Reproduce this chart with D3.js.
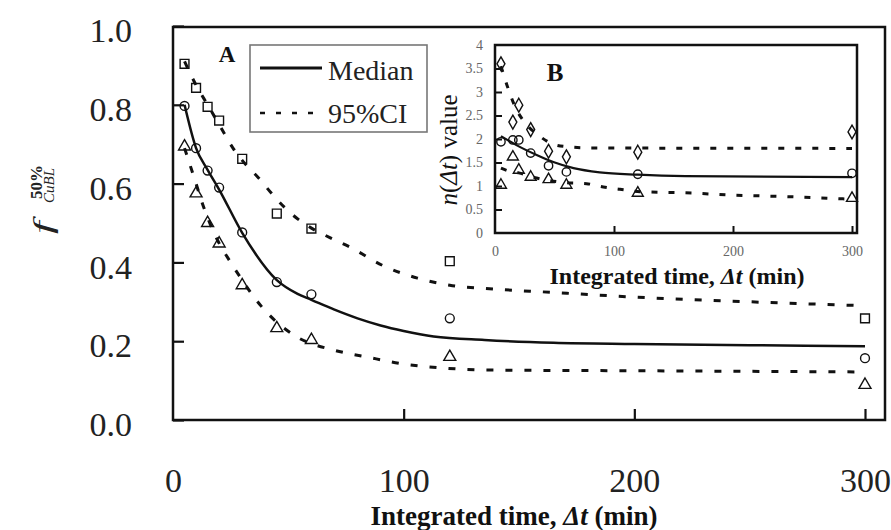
<!DOCTYPE html>
<html>
<head>
<meta charset="utf-8">
<script src="https://cdn.jsdelivr.net/npm/d3@7"></script>
<style>
  html, body { margin: 0; padding: 0; background: #fff; }
  svg { display: block; font-family: "Liberation Serif", "Times New Roman", serif; }
</style>
</head>
<body>
<svg id="chart" width="891" height="530"></svg>
<script>
// ---- Panel A: f(50%) CuBL vs integrated time ----
const timesA = [5, 10, 15, 20, 30, 45, 60, 120, 300];
const upperPtsA = [0.904, 0.843, 0.795, 0.76, 0.663, 0.524, 0.486, 0.403, 0.258];
const medianPtsA = [0.797, 0.69, 0.633, 0.59, 0.476, 0.35, 0.319, 0.258, 0.157];
const lowerPtsA = [0.694, 0.575, 0.50, 0.448, 0.342, 0.233, 0.203, 0.16, 0.089];

const medianLineA = [[5, 0.80], [10, 0.69], [15, 0.635], [20, 0.585], [30, 0.475], [45, 0.355], [54, 0.32],
  [60, 0.305], [70, 0.28], [80, 0.258], [90, 0.24], [100, 0.226], [113, 0.212], [135, 0.203],
  [165, 0.196], [200, 0.193], [250, 0.19], [300, 0.187]];
const upperLineA = [[5, 0.91], [10, 0.85], [15, 0.80], [20, 0.75], [26, 0.69], [31, 0.652], [37, 0.615],
  [45, 0.56], [52, 0.52], [60, 0.487], [68, 0.463], [77, 0.438], [91, 0.392], [106, 0.36], [120, 0.342],
  [135, 0.334], [164, 0.324], [200, 0.312], [250, 0.30], [300, 0.29]];
const lowerLineA = [[5, 0.69], [10, 0.60], [13, 0.545], [19, 0.46], [25, 0.40], [30, 0.355], [36, 0.305],
  [42, 0.265], [54, 0.21], [70, 0.177], [84, 0.16], [100, 0.142], [117, 0.132], [135, 0.127],
  [200, 0.125], [300, 0.122]];

const yTicksA = [0, 0.2, 0.4, 0.6, 0.8, 1.0];
const xTicksA = [0, 100, 200, 300];

// ---- Panel B: n(Δt) value vs integrated time ----
const timesB = [5, 15, 20, 30, 45, 60, 120, 300];
const diamondPtsB = [3.6, 2.36, 2.72, 2.2, 1.74, 1.62, 1.72, 2.15];
const circlePtsB = [1.94, 1.98, 1.98, 1.70, 1.43, 1.30, 1.25, 1.27];
const trianglePtsB = [1.02, 1.62, 1.34, 1.19, 1.14, 1.02, 0.85, 0.74];

const medianLineB = [[5, 2.06], [18, 1.87], [35, 1.66], [49, 1.51], [66, 1.38], [88, 1.29], [120, 1.24],
  [160, 1.21], [300, 1.19]];
const upperLineB = [[5, 3.55], [10, 3.15], [17, 2.68], [25, 2.35], [36, 2.09], [50, 1.88], [63, 1.83],
  [80, 1.81], [300, 1.80]];
const lowerLineB = [[5, 1.38], [10, 1.33], [20, 1.28], [35, 1.17], [60, 1.07], [77, 1.05], [91, 0.98],
  [105, 0.93], [122, 0.88], [166, 0.85], [195, 0.81], [223, 0.79], [250, 0.77], [279, 0.74], [300, 0.72]];

const yTicksB = [0, 0.5, 1, 1.5, 2, 2.5, 3, 3.5, 4];
const xTicksB = [0, 100, 200, 300];

const svg = d3.select("#chart");
const ink = "#111";

// ---------- Panel A ----------
const xA = d3.scaleLinear().domain([0, 300]).range([173, 865]);
const yA = d3.scaleLinear().domain([0, 1]).range([420, 26]);

svg.append("rect")
  .attr("x", 173).attr("y", 27).attr("width", 712).attr("height", 393)
  .attr("fill", "#fff").attr("stroke", ink).attr("stroke-width", 2.5);

const axA_y = svg.append("g").attr("transform", "translate(173,0)")
  .call(d3.axisLeft(yA).tickValues(yTicksA).tickFormat(d3.format(".1f"))
    .tickSizeInner(-11).tickSizeOuter(0).tickPadding(41));
axA_y.select(".domain").remove();
axA_y.selectAll("line").attr("stroke", ink).attr("stroke-width", 2.2);
axA_y.selectAll("text").attr("font-size", 34).attr("fill", "#222")
  .attr("font-family", "Liberation Serif").attr("dy", "0.46em");

const axA_x = svg.append("g").attr("transform", "translate(0,420)")
  .call(d3.axisBottom(xA).tickValues(xTicksA).tickFormat(d3.format("d"))
    .tickSizeInner(-11).tickSizeOuter(0).tickPadding(48));
axA_x.select(".domain").remove();
axA_x.selectAll(".tick").filter(d => d === 0).select("line").remove();
axA_x.selectAll("line").attr("stroke", ink).attr("stroke-width", 2.2);
axA_x.selectAll("text").attr("font-size", 34).attr("fill", "#222")
  .attr("font-family", "Liberation Serif");

const lineA = d3.line().x(d => xA(d[0])).y(d => yA(d[1])).curve(d3.curveMonotoneX);
svg.append("path").attr("d", lineA(upperLineA)).attr("fill", "none")
  .attr("stroke", ink).attr("stroke-width", 3).attr("stroke-dasharray", "7,12");
svg.append("path").attr("d", lineA(lowerLineA)).attr("fill", "none")
  .attr("stroke", ink).attr("stroke-width", 3).attr("stroke-dasharray", "7,12");
svg.append("path").attr("d", lineA(medianLineA)).attr("fill", "none")
  .attr("stroke", ink).attr("stroke-width", 2.5);

function markers(g, times, vals, xs, ys, type, size) {
  g.selectAll(null).data(times.map((t, i) => [t, vals[i]])).join("path")
    .attr("transform", d => `translate(${xs(d[0])},${ys(d[1])})`)
    .attr("d", d3.symbol().type(type).size(size))
    .attr("fill", "none").attr("stroke", ink).attr("stroke-width", 1.4);
}
const gA = svg.append("g");
markers(gA, timesA, upperPtsA, xA, yA, d3.symbolSquare, 78);
markers(gA, timesA, medianPtsA, xA, yA, d3.symbolCircle, 62);
markers(gA, timesA, lowerPtsA, xA, yA, d3.symbolTriangle, 62);

// Legend
const lg = svg.append("g");
lg.append("rect").attr("x", 250).attr("y", 45).attr("width", 177).attr("height", 87)
  .attr("fill", "#fff").attr("stroke", "#777").attr("stroke-width", 1.6);
lg.append("line").attr("x1", 260).attr("x2", 322).attr("y1", 68).attr("y2", 68)
  .attr("stroke", ink).attr("stroke-width", 2.8);
lg.append("line").attr("x1", 260).attr("x2", 324).attr("y1", 113).attr("y2", 113)
  .attr("stroke", ink).attr("stroke-width", 2.6).attr("stroke-dasharray", "5,11");
lg.append("text").attr("x", 328).attr("y", 80).attr("font-size", 28).attr("fill", "#222").text("Median");
lg.append("text").attr("x", 328).attr("y", 123).attr("font-size", 28).attr("fill", "#222").text("95%CI");

svg.append("text").attr("x", 227).attr("y", 62).attr("text-anchor", "middle")
  .attr("font-size", 23).attr("font-weight", "bold").attr("fill", ink).text("A");

// Axis titles for A
const xtA = svg.append("text").attr("x", 514).attr("y", 525).attr("text-anchor", "middle")
  .attr("font-size", 27).attr("font-weight", "bold").attr("fill", ink);
xtA.append("tspan").text("Integrated time, ");
xtA.append("tspan").attr("font-style", "italic").text("Δt");
xtA.append("tspan").text(" (min)");

// Rotated f with superscript 50% and subscript CuBL
svg.append("text").attr("transform", "translate(52,234) rotate(-90) scale(1.7,1)")
  .attr("font-size", 27).attr("font-style", "italic").attr("fill", "#222").text("f");
svg.append("text").attr("transform", "translate(42,199) rotate(-90)")
  .attr("font-size", 17).attr("font-weight", "bold").attr("fill", "#222").text("50%");
svg.append("text").attr("transform", "translate(54,203) rotate(-90)")
  .attr("font-size", 15).attr("font-style", "italic").attr("fill", "#222").text("CuBL");

// ---------- Panel B (inset) ----------
const xB = d3.scaleLinear().domain([0, 300]).range([495, 852]);
const yB = d3.scaleLinear().domain([0, 4]).range([233, 45]);

svg.append("rect")
  .attr("x", 495).attr("y", 45).attr("width", 362).attr("height", 188)
  .attr("fill", "#fff").attr("stroke", ink).attr("stroke-width", 2.5);

const axB_y = svg.append("g").attr("transform", "translate(495,0)")
  .call(d3.axisLeft(yB).tickValues(yTicksB).tickFormat(d => String(d))
    .tickSizeInner(-7).tickSizeOuter(0).tickPadding(12));
axB_y.select(".domain").remove();
axB_y.selectAll(".tick").filter(d => d === 0 || d === 4).select("line").remove();
axB_y.selectAll("line").attr("stroke", ink).attr("stroke-width", 2);
axB_y.selectAll("text").attr("font-size", 14).attr("fill", "#666").attr("font-family", "Liberation Serif");

const axB_x = svg.append("g").attr("transform", "translate(0,233)")
  .call(d3.axisBottom(xB).tickValues(xTicksB).tickFormat(d3.format("d"))
    .tickSizeInner(-7).tickSizeOuter(0).tickPadding(13));
axB_x.select(".domain").remove();
axB_x.selectAll(".tick").filter(d => d === 0).select("line").remove();
axB_x.selectAll("line").attr("stroke", ink).attr("stroke-width", 2);
axB_x.selectAll("text").attr("font-size", 14).attr("fill", "#666").attr("font-family", "Liberation Serif");

const lineB = d3.line().x(d => xB(d[0])).y(d => yB(d[1])).curve(d3.curveMonotoneX);
svg.append("path").attr("d", lineB(upperLineB)).attr("fill", "none")
  .attr("stroke", ink).attr("stroke-width", 3).attr("stroke-dasharray", "6,11");
svg.append("path").attr("d", lineB(lowerLineB)).attr("fill", "none")
  .attr("stroke", ink).attr("stroke-width", 3).attr("stroke-dasharray", "6,11");
svg.append("path").attr("d", lineB(medianLineB)).attr("fill", "none")
  .attr("stroke", ink).attr("stroke-width", 2.2);

const gB = svg.append("g");
markers(gB, timesB, diamondPtsB, xB, yB, d3.symbolDiamond, 55);
markers(gB, timesB, circlePtsB, xB, yB, d3.symbolCircle, 55);
markers(gB, timesB, trianglePtsB, xB, yB, d3.symbolTriangle, 52);

svg.append("text").attr("x", 555).attr("y", 81).attr("text-anchor", "middle")
  .attr("font-size", 25).attr("font-weight", "bold").attr("fill", ink).text("B");

const xtB = svg.append("text").attr("x", 677).attr("y", 284).attr("text-anchor", "middle")
  .attr("font-size", 24).attr("font-weight", "bold").attr("fill", ink);
xtB.append("tspan").text("Integrated time, ");
xtB.append("tspan").attr("font-style", "italic").text("Δt");
xtB.append("tspan").text(" (min)");

const ytB = svg.append("text").attr("transform", "translate(457,150) rotate(-90)")
  .attr("text-anchor", "middle").attr("font-size", 25).attr("fill", ink);
ytB.append("tspan").attr("font-style", "italic").text("n");
ytB.append("tspan").text("(");
ytB.append("tspan").attr("font-style", "italic").text("Δt");
ytB.append("tspan").text(") value");
</script>
</body>
</html>
